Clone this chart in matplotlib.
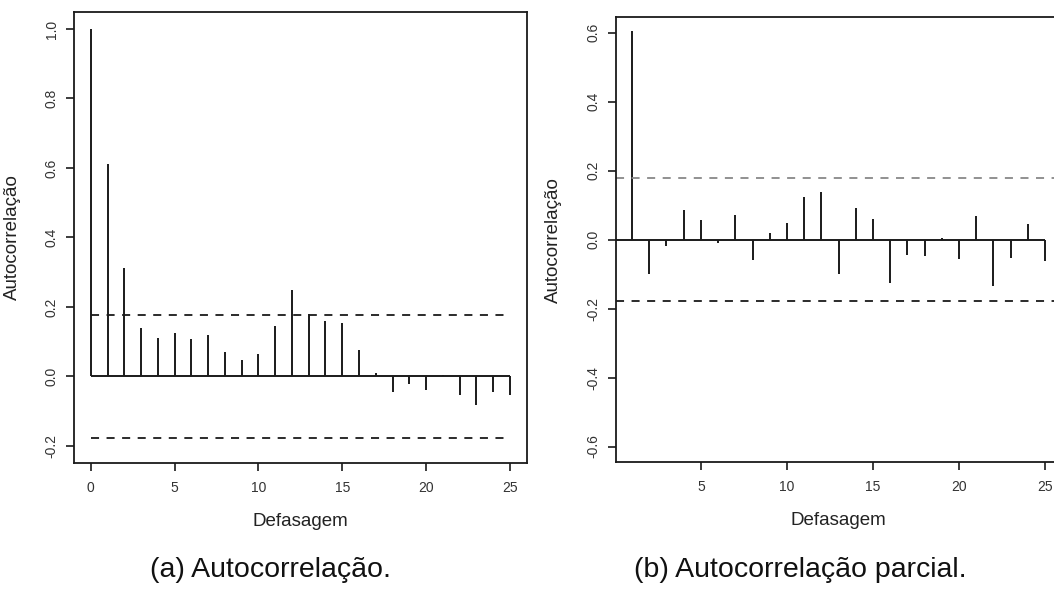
import matplotlib
matplotlib.use("Agg")
import matplotlib.pyplot as plt
import numpy as np

plt.rcParams['font.family'] = ['Liberation Sans', 'DejaVu Sans']
plt.rcParams['lines.scale_dashes'] = False

# Valores
lags_acf = np.arange(0, 26)
acf = [1.0, 0.61, 0.311, 0.140, 0.110, 0.124, 0.107, 0.119, 0.070, 0.047,
       0.064, 0.145, 0.249, 0.181, 0.160, 0.154, 0.075, 0.010, -0.045, -0.023,
       -0.040, 0.004, -0.053, -0.082, -0.045, -0.053]

lags_pacf = np.arange(1, 26)
pacf = [0.605, -0.099, -0.019, 0.085, 0.056, -0.011, 0.072, -0.060, 0.018, 0.047,
        0.125, 0.138, -0.099, 0.093, 0.059, -0.127, -0.043, -0.048, 0.006, -0.055,
        0.068, -0.134, -0.052, 0.046, -0.063]

conf = 0.178
acf_yticks = [-0.2, 0.0, 0.2, 0.4, 0.6, 0.8, 1.0]
pacf_yticks = [-0.6, -0.4, -0.2, 0.0, 0.2, 0.4, 0.6]
acf_xticks = [0, 5, 10, 15, 20, 25]
pacf_xticks = [5, 10, 15, 20, 25]
captions = ["(a) Autocorrelação.", "(b) Autocorrelação parcial."]

ink = '#1a1a1a'
dash = (0, (5.8, 5.4))

fig = plt.figure(figsize=(10.54, 5.90), dpi=100)
ax1 = fig.add_axes([0.0702, 0.2158, 0.4295, 0.7634])
ax2 = fig.add_axes([0.584, 0.2169, 0.4232, 0.7537])


def style(ax, xticks, yticks):
    for s in ax.spines.values():
        s.set_linewidth(1.3)
        s.set_color(ink)
    ax.set_xticks(xticks)
    ax.set_yticks(yticks)
    ax.set_yticklabels([f"{v:.1f}" for v in yticks], rotation=90, va='center')
    ax.tick_params(axis='both', length=6, width=1.2, color=ink,
                   labelsize=10, labelcolor='#333333')
    ax.tick_params(axis='y', pad=5)
    ax.tick_params(axis='x', pad=7)
    ax.set_xlabel("Defasagem", fontsize=13.5, color='#222222')
    ax.set_ylabel("Autocorrelação", fontsize=13.5, color='#222222')
    ax.xaxis.set_label_coords(0.5, -0.112)
    ax.yaxis.set_label_coords(-0.117, 0.5)


# (a) ACF
ax1.vlines(lags_acf, 0, acf, color=ink, lw=1.4)
ax1.hlines(0, 0, 25, color=ink, lw=1.4)
ax1.hlines([conf, -conf], 0, 25, color=ink, lw=1.3, linestyles=[dash])
ax1.set_xlim(-1, 26)
ax1.set_ylim(-0.248, 1.048)
style(ax1, acf_xticks, acf_yticks)

# (b) PACF
ax2.vlines(lags_pacf, 0, pacf, color=ink, lw=1.4)
ax2.hlines(0, 0.04, 25, color=ink, lw=1.4)
ax2.axhline(conf, color='#888888', lw=1.3, ls=dash)
ax2.axhline(-conf, color=ink, lw=1.3, ls=dash)
ax2.set_xlim(0.04, 25.96)
ax2.set_ylim(-0.645, 0.645)
style(ax2, pacf_xticks, pacf_yticks)
ax2.yaxis.set_label_coords(-0.12, 0.5)

fig.text(0.257, 0.034, captions[0], fontsize=20.5, ha='center', va='center', color='#111111')
fig.text(0.759, 0.034, captions[1], fontsize=20.5, ha='center', va='center', color='#111111')

fig.savefig("out.png", dpi=100)
